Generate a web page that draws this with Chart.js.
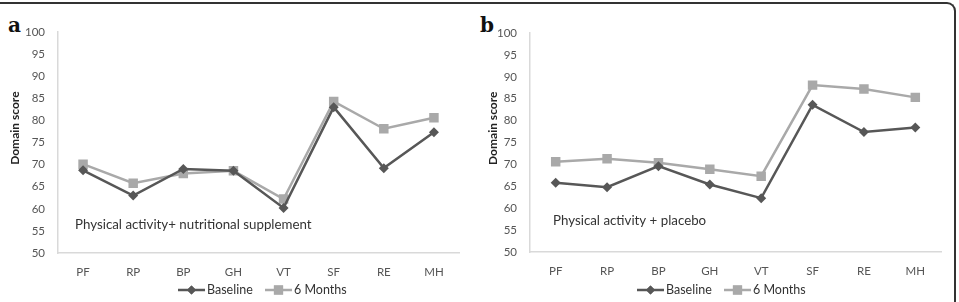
<!DOCTYPE html>
<html>
<head>
<meta charset="utf-8">
<script src="https://cdn.jsdelivr.net/npm/chart.js@4/dist/chart.umd.min.js"></script>
<style>
  html, body { margin: 0; padding: 0; background: #fff; }
  #wrap { position: relative; width: 959px; height: 302px; overflow: hidden; }
  #frame { position: absolute; left: -10px; top: 2px; width: 966px; height: 320px;
           border-top: 2px solid #333; border-right: 2px solid #333; border-top-right-radius: 9px; box-sizing: border-box; }
  .cv { position: absolute; top: 0; }
  .lbl { position: absolute; font-family: "DejaVu Serif", "Liberation Serif", serif; font-weight: bold; font-size: 20px; color: #111; }
</style>
</head>
<body>
<div id="wrap">
  <div id="frame"></div>
  <div class="lbl" style="left:8px; top:13px;">a</div>
  <div class="lbl" style="left:480px; top:13px;">b</div>
  <div class="cv" style="left:0; width:479px; height:302px;"><canvas id="ca"></canvas></div>
  <div class="cv" style="left:479px; width:480px; height:302px;"><canvas id="cb"></canvas></div>
</div>
<script>
const categories = ["PF", "RP", "BP", "GH", "VT", "SF", "RE", "MH"];
const seriesNames = ["Baseline", "6 Months"];
const yTicks = [50, 55, 60, 65, 70, 75, 80, 85, 90, 95, 100];

const baselineA = [68.7, 63.0, 69.0, 68.6, 60.2, 83.0, 69.2, 77.3];
const monthsA   = [70.1, 65.8, 68.0, 68.6, 62.2, 84.3, 78.1, 80.6];
const baselineB = [65.8, 64.8, 69.6, 65.4, 62.3, 83.6, 77.4, 78.4];
const monthsB   = [70.6, 71.3, 70.4, 68.9, 67.3, 88.1, 87.2, 85.3];

const noteA = "Physical activity+ nutritional supplement";
const noteB = "Physical activity + placebo";
const yTitle = "Domain score";

const DARK = "#575757", LIGHT = "#a9a9a9";
const FONT = "Lato, 'Open Sans', sans-serif";

function makeChart(id, base, months, opts) {
  const extras = {
    id: "extras",
    afterDraw(chart) {
      const ctx = chart.ctx, ca = chart.chartArea;
      ctx.save();
      ctx.fillStyle = "#222";
      ctx.font = "bold 12px " + FONT;
      ctx.textAlign = "center"; ctx.textBaseline = "middle";
      ctx.translate(opts.titleX, ca.top + (ca.bottom - ca.top) * 0.435);
      ctx.rotate(-Math.PI / 2);
      ctx.fillText(yTitle, 0, 0);
      ctx.restore();

      ctx.save();
      ctx.fillStyle = "#333";
      ctx.font = "13.3px " + FONT;
      ctx.textAlign = "left"; ctx.textBaseline = "middle";
      ctx.fillText(opts.note, opts.noteX, opts.noteY);
      ctx.restore();

      ctx.save();
      ctx.font = "12.5px " + FONT;
      ctx.textBaseline = "middle"; ctx.textAlign = "left";
      const ly = 290;
      const items = [
        {name: seriesNames[0], color: DARK, style: "rectRot", r: 4.5, x: opts.legX},
        {name: seriesNames[1], color: LIGHT, style: "rect", r: 6.5, x: opts.legX + opts.legGap}
      ];
      items.forEach(it => {
        ctx.strokeStyle = it.color; ctx.lineWidth = 2.5;
        ctx.beginPath(); ctx.moveTo(it.x, ly); ctx.lineTo(it.x + 27, ly); ctx.stroke();
        ctx.fillStyle = it.color;
        Chart.helpers.drawPoint(ctx, {pointStyle: it.style, radius: it.r, borderWidth: 0}, it.x + 13.5, ly);
        ctx.fill();
        ctx.fillStyle = "#333";
        ctx.fillText(it.name, it.x + 29, ly);
      });
      ctx.restore();
    }
  };
  return new Chart(document.getElementById(id), {
    type: "line",
    data: {
      labels: categories,
      datasets: [
        { label: seriesNames[0], data: base, borderColor: DARK, backgroundColor: DARK,
          borderWidth: 2.5, pointStyle: "rectRot", pointRadius: 5, pointBorderWidth: 0, tension: 0 },
        { label: seriesNames[1], data: months, borderColor: LIGHT, backgroundColor: LIGHT,
          borderWidth: 2.5, pointStyle: "rect", pointRadius: 6.7, pointBorderWidth: 0, tension: 0 }
      ]
    },
    options: {
      responsive: true, maintainAspectRatio: false, animation: false,
      layout: { padding: { left: 0, top: opts.top, right: opts.right, bottom: opts.bottom } },
      plugins: { legend: { display: false }, tooltip: { enabled: false } },
      scales: {
        x: {
          offset: true,
          grid: { display: false, drawTicks: false },
          border: { display: true, color: "#d9d9d9", width: 1.5 },
          ticks: { color: "#555", font: { family: FONT, size: 11.5 }, padding: 12 },
          afterFit(s) { s.height = 34; }
        },
        y: {
          min: 50, max: 100,
          grid: { display: false, drawTicks: false },
          border: { display: true, color: "#d9d9d9", width: 1.5 },
          afterBuildTicks(s) { s.ticks = yTicks.map(v => ({ value: v })); },
          ticks: { color: "#555", font: { family: FONT, size: 11.5 }, padding: 13 },
          afterFit(s) { s.width = opts.yWidth; }
        }
      }
    },
    plugins: [extras]
  });
}

makeChart("ca", baselineA, monthsA, { top: 32, right: 20, bottom: 15, yWidth: 58, titleX: 15, note: noteA, noteX: 75, noteY: 225, legX: 178, legGap: 87 });
makeChart("cb", baselineB, monthsB, { top: 33, right: 18, bottom: 16, yWidth: 51, titleX: 14, note: noteB, noteX: 74, noteY: 221, legX: 158, legGap: 87 });
</script>
</body>
</html>
